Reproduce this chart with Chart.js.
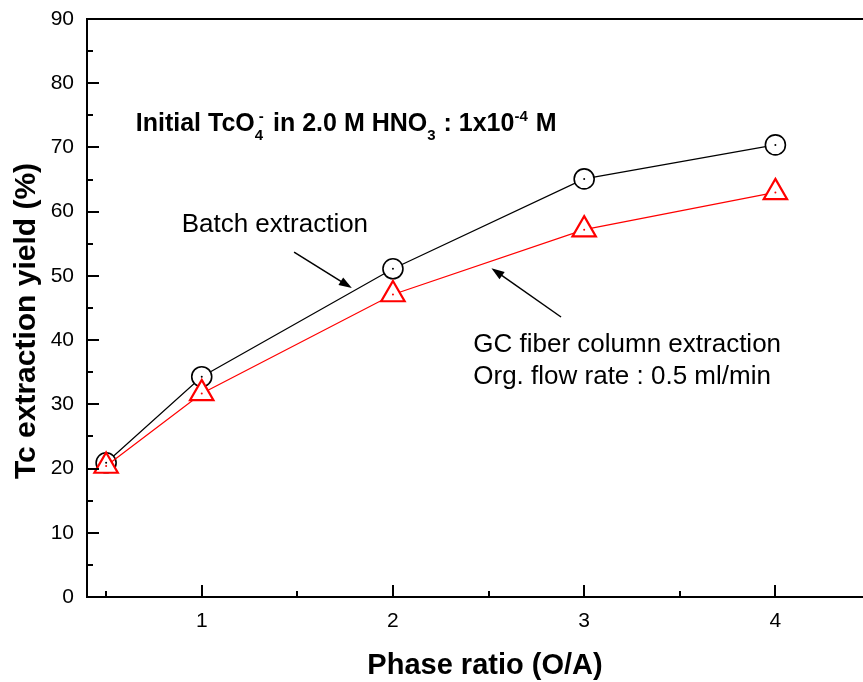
<!DOCTYPE html>
<html>
<head>
<meta charset="utf-8">
<script src="https://cdn.jsdelivr.net/npm/chart.js@4.4.0/dist/chart.umd.min.js"></script>
<style>
  html, body { margin: 0; padding: 0; background: #fff; overflow: hidden; }
  #box { position: relative; width: 880px; height: 682px; }
</style>
</head>
<body>
<div id="box"><canvas id="tcChart"></canvas></div>
<script>
// phase ratio (O/A) on x, Tc extraction yield (%) on y
const phaseRatio = [0.5, 1, 2, 3, 4];
const batchYield = [20.9, 34.3, 51.1, 65.1, 70.4];
const columnYield = [20.4, 31.7, 47.1, 57.2, 63.0];
const xRange = [0.4, 4.5];
const yRange = [0, 90];

const FONT = '"Liberation Sans", Arial, sans-serif';

// annotations are placed in data units so they follow the scales
const notes = [
  { text: 'Batch extraction', x: 0.895, y: 56.8 },
  { text: 'GC fiber column extraction', x: 2.42, y: 38.1 },
  { text: 'Org. flow rate : 0.5 ml/min', x: 2.42, y: 33.2 }
];
const arrows = [
  { from: [1.483, 53.7], to: [1.785, 48.1] },
  { from: [2.879, 43.6], to: [2.515, 51.2] }
];

function drawArrow(ctx, x1, y1, x2, y2) {
  const ang = Math.atan2(y2 - y1, x2 - x1);
  const len = 13, half = 4.5;
  ctx.beginPath();
  ctx.moveTo(x1, y1);
  ctx.lineTo(x2 - Math.cos(ang) * len * 0.8, y2 - Math.sin(ang) * len * 0.8);
  ctx.lineWidth = 1.5;
  ctx.strokeStyle = '#000';
  ctx.stroke();
  ctx.beginPath();
  ctx.moveTo(x2, y2);
  ctx.lineTo(x2 - Math.cos(ang) * len - Math.sin(ang) * half, y2 - Math.sin(ang) * len + Math.cos(ang) * half);
  ctx.lineTo(x2 - Math.cos(ang) * len + Math.sin(ang) * half, y2 - Math.sin(ang) * len - Math.cos(ang) * half);
  ctx.closePath();
  ctx.fillStyle = '#000';
  ctx.fill();
}

// bold header with sub/superscripts
function drawHeader(ctx, x, y) {
  const big = 'bold 25px ' + FONT;
  const small = 'bold 15px ' + FONT;
  const put = (t, f, dy) => {
    ctx.font = f;
    ctx.fillText(t, x, y + dy);
    return ctx.measureText(t).width;
  };
  x += put('Initial TcO', big, 0);
  const w4 = put('4', small, 9);
  ctx.font = small;
  ctx.fillText('-', x + 4, y - 10);
  x += w4 + 3;
  x += put(' in 2.0 M HNO', big, 0);
  x += put('3', small, 9) + 1;
  x += put(' : 1x10', big, 0);
  x += put('-4', small, -10) + 1;
  put(' M', big, 0);
}

const framePlugin = {
  id: 'frame',
  afterDatasetsDraw(chart) {
    const ctx = chart.ctx;
    ctx.save();
    chart.data.datasets.forEach((ds, i) => {
      chart.getDatasetMeta(i).data.forEach(pt => {
        ctx.beginPath();
        ctx.arc(pt.x, pt.y, 1, 0, Math.PI * 2);
        ctx.fillStyle = ds.borderColor;
        ctx.fill();
      });
    });
    ctx.restore();
  },
  afterDraw(chart) {
    const { ctx, chartArea: a, scales: { x, y } } = chart;
    ctx.save();
    ctx.strokeStyle = '#000';
    ctx.lineWidth = 2;
    // top and right frame lines
    ctx.beginPath();
    ctx.moveTo(a.left, a.top);
    ctx.lineTo(a.right, a.top);
    ctx.lineTo(a.right, a.bottom);
    ctx.stroke();
    // inward ticks
    ctx.beginPath();
    for (let v = yRange[0]; v <= yRange[1]; v += 5) {
      const py = Math.round(y.getPixelForValue(v));
      const len = v % 10 === 0 ? 12 : 6;
      ctx.moveTo(a.left, py);
      ctx.lineTo(a.left + len, py);
    }
    for (let v = 0.5; v <= xRange[1]; v += 0.5) {
      const px = Math.round(x.getPixelForValue(v));
      const len = v % 1 === 0 ? 12 : 6;
      ctx.moveTo(px, a.bottom);
      ctx.lineTo(px, a.bottom - len);
    }
    ctx.stroke();

    // axis titles
    ctx.fillStyle = '#000';
    ctx.textAlign = 'center';
    ctx.textBaseline = 'alphabetic';
    ctx.font = 'bold 29px ' + FONT;
    ctx.fillText('Phase ratio (O/A)', 485, 674);
    ctx.save();
    ctx.translate(35, 321);
    ctx.rotate(-Math.PI / 2);
    ctx.font = 'bold 30px ' + FONT;
    ctx.fillText('Tc extraction yield (%)', 0, 0);
    ctx.restore();

    // notes
    ctx.textAlign = 'left';
    ctx.font = '26px ' + FONT;
    notes.forEach(n => ctx.fillText(n.text, x.getPixelForValue(n.x), y.getPixelForValue(n.y)));
    drawHeader(ctx, x.getPixelForValue(0.655), y.getPixelForValue(72.6));
    arrows.forEach(ar => drawArrow(ctx,
      x.getPixelForValue(ar.from[0]), y.getPixelForValue(ar.from[1]),
      x.getPixelForValue(ar.to[0]), y.getPixelForValue(ar.to[1])));
    ctx.restore();
  }
};

const ctx = document.getElementById('tcChart');
new Chart(ctx, {
  type: 'scatter',
  data: {
    datasets: [
      {
        label: 'GC fiber column extraction',
        data: phaseRatio.map((p, i) => ({ x: p, y: columnYield[i] })),
        showLine: true,
        borderColor: '#ff0000',
        borderWidth: 1.2,
        pointStyle: 'triangle',
        pointRadius: 13.5,
        pointBorderWidth: 2.2,
        pointBackgroundColor: '#fff',
        pointBorderColor: '#ff0000'
      },
      {
        label: 'Batch extraction',
        data: phaseRatio.map((p, i) => ({ x: p, y: batchYield[i] })),
        showLine: true,
        borderColor: '#000',
        borderWidth: 1.2,
        pointStyle: 'circle',
        pointRadius: 10,
        pointBorderWidth: 1.6,
        pointBackgroundColor: '#fff',
        pointBorderColor: '#000'
      }
    ]
  },
  options: {
    responsive: true,
    maintainAspectRatio: false,
    animation: false,
    layout: { autoPadding: false, padding: { top: 19, right: 9, left: 0, bottom: 0 } },
    plugins: { legend: { display: false }, tooltip: { enabled: false } },
    scales: {
      x: {
        type: 'linear',
        min: xRange[0],
        max: xRange[1],
        afterFit: s => { s.height = 85; s.paddingLeft = 0; s.paddingRight = 0; },
        grid: { display: false, drawTicks: false },
        border: { display: true, color: '#000', width: 2 },
        ticks: {
          stepSize: 1,
          includeBounds: false,
          padding: 12,
          color: '#000',
          font: { family: FONT, size: 21 }
        }
      },
      y: {
        min: yRange[0],
        max: yRange[1],
        afterFit: s => { s.width = 87; s.paddingTop = 0; s.paddingBottom = 0; },
        grid: { display: false, drawTicks: false },
        border: { display: true, color: '#000', width: 2 },
        ticks: {
          stepSize: 10,
          padding: 13,
          color: '#000',
          font: { family: FONT, size: 21 }
        }
      }
    }
  },
  plugins: [framePlugin]
});
</script>
</body>
</html>
